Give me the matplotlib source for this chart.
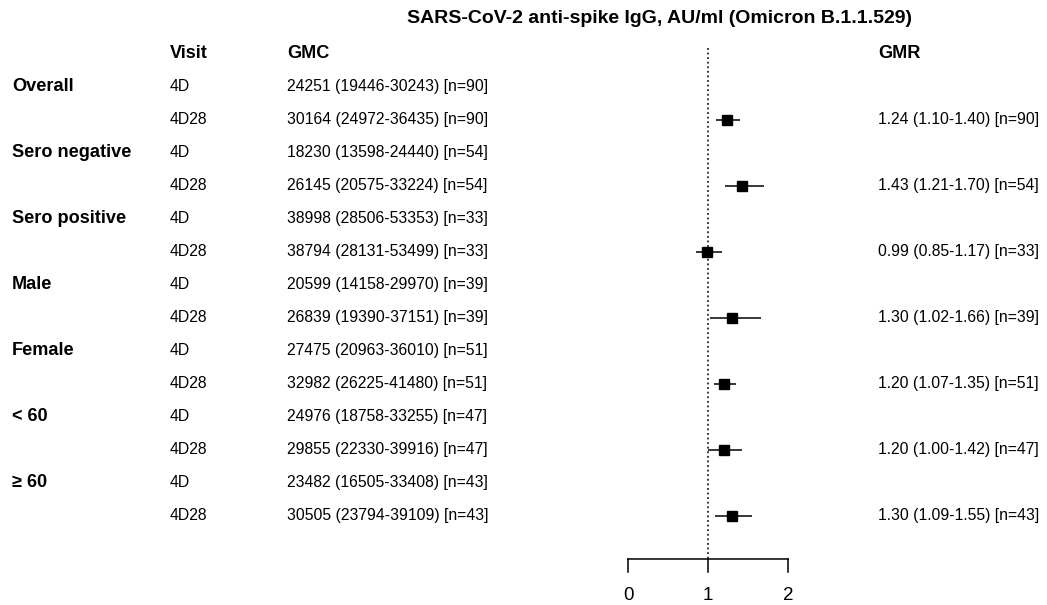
import matplotlib
matplotlib.use("Agg")
import matplotlib.pyplot as plt

plt.rcParams['font.family'] = ['Liberation Sans', 'DejaVu Sans']

groups = ["Overall", "Sero negative", "Sero positive", "Male", "Female", "< 60", "≥ 60"]
visits = ["4D", "4D28"]
gmc_text = [
    "24251 (19446-30243) [n=90]", "30164 (24972-36435) [n=90]",
    "18230 (13598-24440) [n=54]", "26145 (20575-33224) [n=54]",
    "38998 (28506-53353) [n=33]", "38794 (28131-53499) [n=33]",
    "20599 (14158-29970) [n=39]", "26839 (19390-37151) [n=39]",
    "27475 (20963-36010) [n=51]", "32982 (26225-41480) [n=51]",
    "24976 (18758-33255) [n=47]", "29855 (22330-39916) [n=47]",
    "23482 (16505-33408) [n=43]", "30505 (23794-39109) [n=43]",
]
gmr = [1.24, 1.43, 0.99, 1.30, 1.20, 1.20, 1.30]
gmr_lo = [1.10, 1.21, 0.85, 1.02, 1.07, 1.00, 1.09]
gmr_hi = [1.40, 1.70, 1.17, 1.66, 1.35, 1.42, 1.55]
gmr_n = [90, 54, 33, 39, 51, 47, 43]
xticks = [0, 1, 2]
title = "SARS-CoV-2 anti-spike IgG, AU/ml (Omicron B.1.1.529)"

W, H = 1047, 605
fig = plt.figure(figsize=(W / 100, H / 100), dpi=100)
ax = fig.add_axes([0, 0, 1, 1])
# pixel geometry: x=0 -> 628px, x=2 -> 788px ; row i -> 86 + 33*i px
px_per_unit = 80.0
x0px = 628.0
row0px, row_h = 86.5, 33.0
ax.set_xlim(-x0px / px_per_unit, (W - x0px) / px_per_unit)
ax.set_ylim((H - row0px) / row_h, -row0px / row_h)
ax.axis('off')

def xpx(p):
    return (p - x0px) / px_per_unit

def ypx(p):
    return (p - row0px) / row_h

fs = 11.3
fsb = 13.1
# title and headers
ax.text(xpx(659), ypx(18), title, ha='center', va='center', fontsize=14, fontweight='bold')
ax.text(xpx(170), ypx(53), "Visit", ha='left', va='center', fontsize=fsb, fontweight='bold')
ax.text(xpx(287), ypx(53), "GMC", ha='left', va='center', fontsize=fsb, fontweight='bold')
ax.text(xpx(878), ypx(53), "GMR", ha='left', va='center', fontsize=fsb, fontweight='bold')

for g, name in enumerate(groups):
    r0 = 2 * g
    ax.text(xpx(12), r0, name, ha='left', va='center', fontsize=fsb, fontweight='bold')
    for v, vis in enumerate(visits):
        r = r0 + v
        ax.text(xpx(170), r, vis, ha='left', va='center', fontsize=fs)
        ax.text(xpx(287), r, gmc_text[r], ha='left', va='center', fontsize=fs)
    r = r0 + 1
    ax.plot([gmr_lo[g], gmr_hi[g]], [r, r], color='black', lw=1.1, solid_capstyle='butt')
    ax.plot([gmr[g]], [r], marker='s', ms=7.5, color='black', mec='black')
    ax.text(xpx(878), r, f"{gmr[g]:.2f} ({gmr_lo[g]:.2f}-{gmr_hi[g]:.2f}) [n={gmr_n[g]}]",
            ha='left', va='center', fontsize=fs)

# reference line
ax.plot([1, 1], [ypx(48), ypx(558)], color='black', lw=1.1, ls=(0, (1.2, 1.8)))

# x axis
yaxis = ypx(559)
ax.plot([xticks[0], xticks[-1]], [yaxis, yaxis], color='black', lw=1.1)
for t in xticks:
    ax.plot([t, t], [yaxis, ypx(572)], color='black', lw=1.1)
    ax.text(t, ypx(595), str(t), ha='center', va='center', fontsize=13.5)

fig.savefig("out.png", dpi=100)
